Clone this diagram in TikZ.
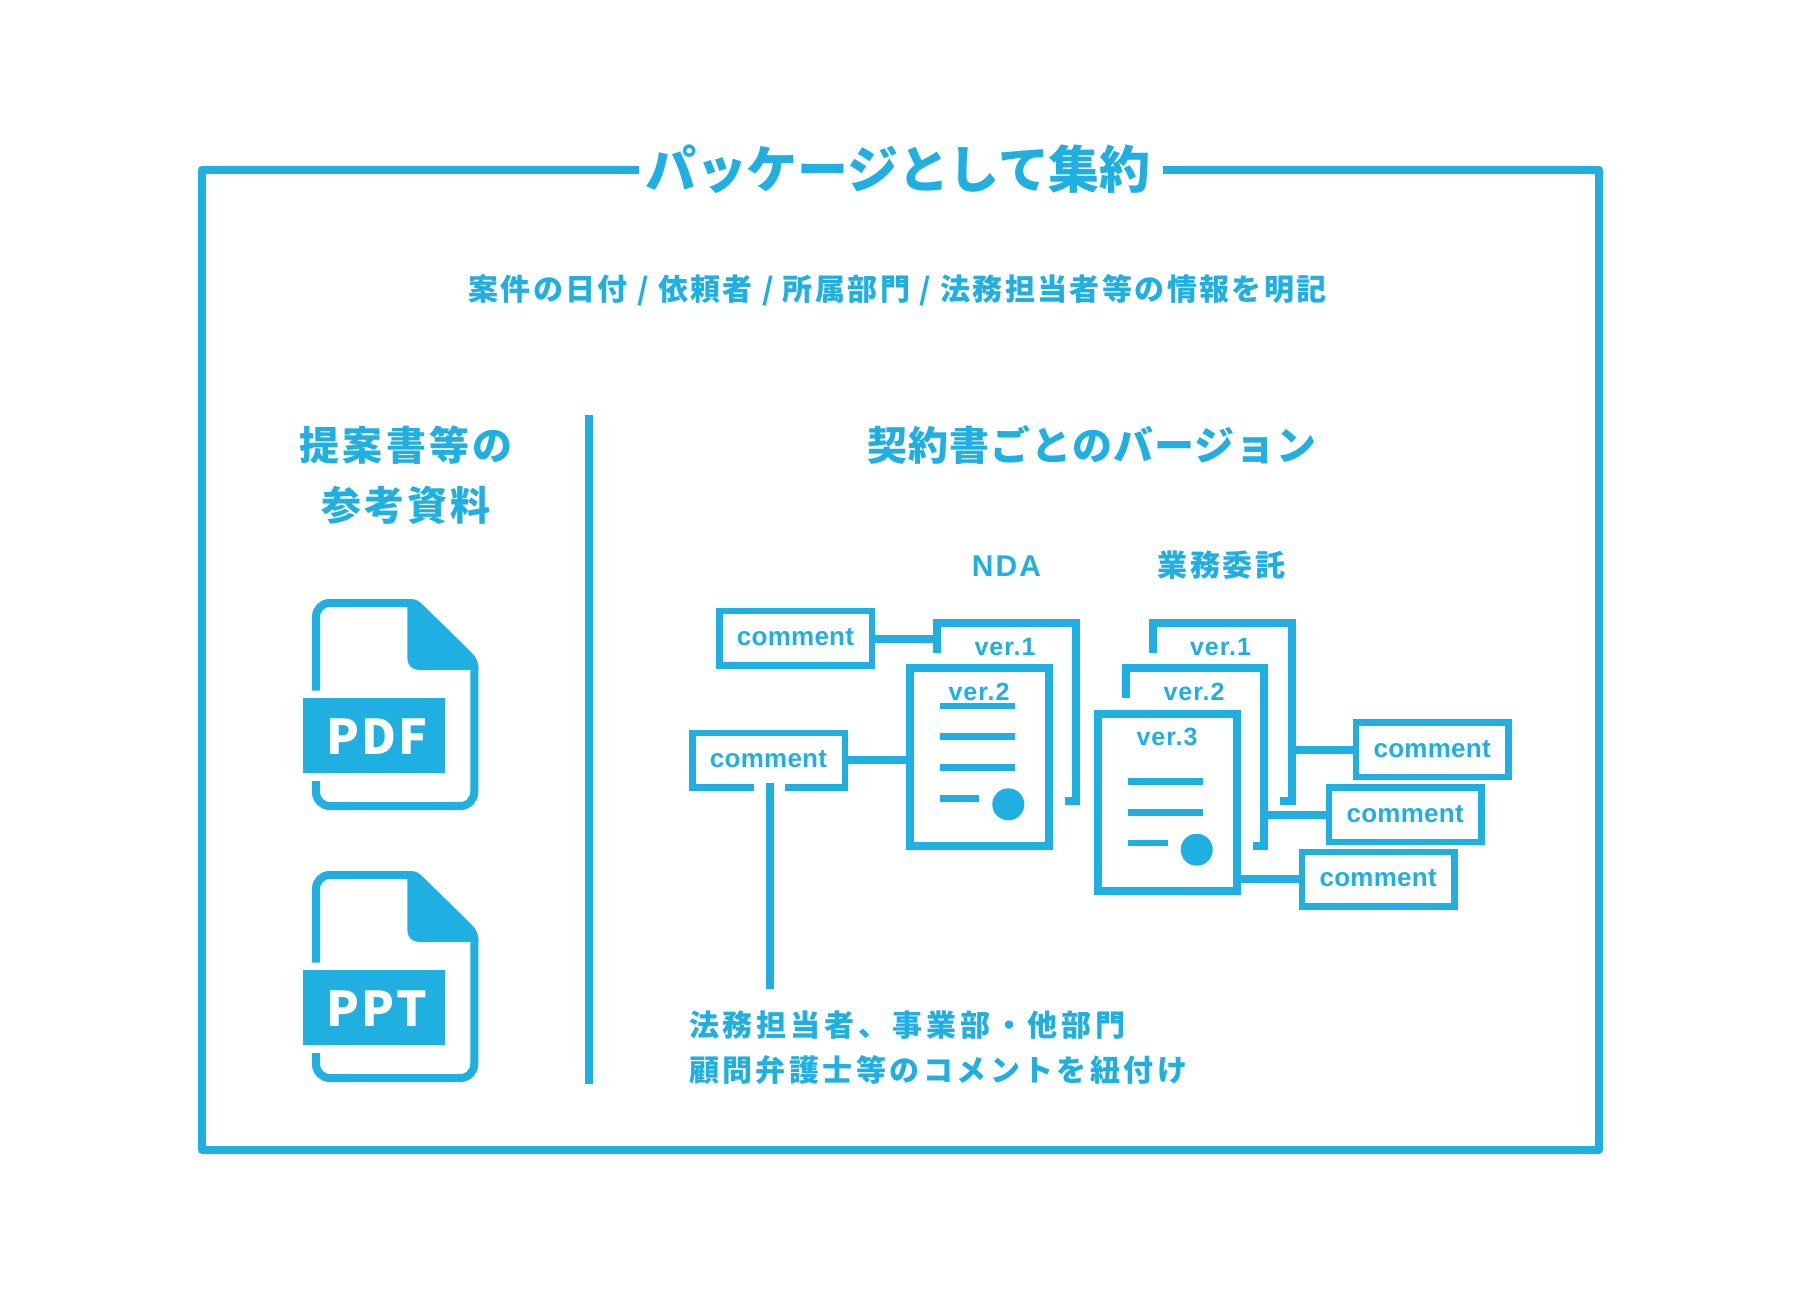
\documentclass[tikz,border=0pt]{standalone}
\usepackage{fontspec}
\newfontfamily\jp{Noto Sans CJK JP}[BoldFont={Noto Sans CJK JP Black}]
\newfontfamily\jpm{Noto Sans CJK JP}
\newfontfamily\lat{Liberation Sans}
\definecolor{brand}{HTML}{20AFE1}
\newcommand\jt[2]{\jp\bfseries\fontsize{#1}{#1}\selectfont\addfontfeature{LetterSpace=#2}}
\newcommand\jb[2]{\jpm\bfseries\fontsize{#1}{#1}\selectfont\addfontfeature{LetterSpace=#2}}
\newcommand\lt[2]{\lat\bfseries\fontsize{#1}{#1}\selectfont\addfontfeature{LetterSpace=#2}}
\tikzset{
  txt/.style={inner sep=0pt,outer sep=0pt,anchor=base,text=brand},
  titletxt/.style={txt,font=\jt{51}{-0.5}},
  subtxt/.style={txt,font=\jt{30}{8}},
  headtxt/.style={txt,font=\jt{40}{8}},
  headtxtb/.style={txt,font=\jt{40}{2.5}},
  captxt/.style={txt,anchor=base west,font=\jt{30}{13}},
  captxtb/.style={txt,anchor=base west,font=\jt{30}{11.5}},
  vertxt/.style={txt,font=\lt{25}{4}},
  collab/.style={txt,font=\lt{30}{7}},
  colj/.style={txt,font=\jt{30}{8}},
  iconlab/.style={txt,text=white,font=\jb{48}{5}},
  commentbox/.style={draw=brand,line width=6.5pt,fill=white,minimum width=152.5pt,minimum height=54.5pt,
    inner sep=0pt,text=brand,font=\lt{26}{1},text height=15pt,text depth=0pt},
  docbox/.style={draw=brand,line width=8pt,fill=white,minimum width=138.7pt,minimum height=177.7pt,inner sep=0pt},
  rule/.style={draw=brand,line width=8pt},
  thin/.style={draw=brand,line width=6.7pt},
  bracket/.style={draw=brand,line width=8pt,miter limit=10},
  link/.style={draw=brand,line width=8pt},
  frame/.style={draw=brand,line width=8.3pt,line join=round}
}
\newcommand\fileicon[3]{%
  \begin{scope}[shift={(0,#1)}]
    \draw[rule] (316,690.7) -- (316,617) .. controls (316,609) and (322,603) .. (330,603) -- (410,603);
    \fill[brand] (407.3,599) -- (411,599) .. controls (416,599) and (420,601.5) .. (423,605)
       -- (472,653) .. controls (476,657) and (478.3,662) .. (478.3,668) -- (478.3,670) -- (419,670)
       .. controls (412,670) and (407.3,665) .. (407.3,658) -- cycle;
    \draw[rule] (474.3,664) -- (474.3,792) .. controls (474.3,800) and (468,806) .. (460,806)
       -- (330,806) .. controls (322,806) and (316,800) .. (316,792) -- (316,781);
    \fill[brand] (303,698) rectangle (445,773);
    \node[iconlab] (#2) at (377,754) {#3};
  \end{scope}
}
\begin{document}
\begin{tikzpicture}[x=1pt,y=-1pt]
\useasboundingbox (0,0) rectangle (1800,1300);
\fill[white] (0,0) rectangle (1800,1300);

% outer frame
\coordinate (fl) at (638.5,169.7);
\coordinate (fr) at (1163,169.7);
\draw[frame] (fl) -- (202,169.7) -- (202,1150) -- (1599,1150) -- (1599,169.7) -- (fr);
\node[titletxt] (title) at (898,189) {パッケージとして集約};
\node[subtxt] (sub) at (897.5,300) {案件の日付 / 依頼者 / 所属部門 / 法務担当者等の情報を明記};

% divider
\coordinate (dvt) at (589,415);
\coordinate (dvb) at (589,1084);
\draw[rule] (dvt) -- (dvb);

% left column
\node[headtxt] (h1) at (406,460) {提案書等の};
\node[headtxt] (h2) at (406,520.5) {参考資料};
\fileicon{0}{pdf}{PDF}
\fileicon{272}{ppt}{PPT}

% right column heading
\node[headtxtb] (h3) at (1092,460) {契約書ごとのバージョン};
\node[collab] (nda) at (1006.5,576) {NDA};
\node[colj] (gyomu) at (1221.5,576.5) {業務委託};

% NDA documents
\coordinate (n1a) at (937.3,652.7);
\coordinate (n1b) at (1064.7,801);
\draw[bracket] (n1a) -- (937.3,623) -- (1076,623) -- (1076,801) -- (n1b);
\node[vertxt] (nv1) at (1005,655) {ver.1};
\node[docbox] (nd2) at (979.35,757.15) {};
\node[vertxt] (nv2) at (979,700) {ver.2};
\draw[thin] (940,706) -- (1015,706);
\draw[thin] (940,736.7) -- (1015,736.7);
\draw[thin] (940,767.3) -- (1015,767.3);
\draw[thin] (940,798.3) -- (979,798.3);
\fill[brand] (1008.3,804.3) circle[radius=16pt];

% business documents
\coordinate (b1a) at (1153,652.7);
\coordinate (b1b) at (1280,801);
\draw[bracket] (b1a) -- (1153,623) -- (1291.7,623) -- (1291.7,801) -- (b1b);
\node[vertxt] (bv1) at (1220.5,655) {ver.1};
\coordinate (b2a) at (1125.7,697.7);
\coordinate (b2b) at (1253,846);
\draw[bracket] (b2a) -- (1125.7,668.3) -- (1264.3,668.3) -- (1264.3,846) -- (b2b);
\node[vertxt] (bv2) at (1194,700) {ver.2};
\node[docbox] (bd3) at (1167.65,802.5) {};
\node[vertxt] (bv3) at (1167,745) {ver.3};
\draw[thin] (1128.3,781.7) -- (1203.3,781.7);
\draw[thin] (1128.3,812.5) -- (1203.3,812.5);
\draw[thin] (1128.3,843) -- (1167.7,843);
\fill[brand] (1196.7,849.7) circle[radius=16pt];

% comments
\node[commentbox] (c1) at (795.5,638.2) {comment};
\node[commentbox] (c2) at (768.5,760) {comment};
\node[commentbox] (c3) at (1432.2,749.7) {comment};
\node[commentbox] (c4) at (1405.2,814.5) {comment};
\node[commentbox] (c5) at (1378.2,879.2) {comment};

% connectors
\coordinate (n1m) at (933.3,638.5);
\coordinate (b1m) at (1295.7,750);
\coordinate (b2m) at (1268.3,814.7);
\draw[link] (c1.east |- n1m) -- (n1m);
\draw[link] (c2.east) -- (c2.east -| nd2.west);
\draw[link] (b1m) -- (b1m -| c3.west);
\draw[link] (b2m) -- (b2m -| c4.west);
\draw[link] (bd3.east |- c5.west) -- (c5.west);

% comment 2 tail
\fill[white] (753.7,782) rectangle (785.3,792);
\coordinate (tailtop) at (769.5,783);
\coordinate (tailend) at (769.5,989);
\draw[link] (tailtop) -- (tailend);

% caption
\node[captxt] (cap1) at (689,1036.5) {法務担当者、事業部・他部門};
\node[captxtb] (cap2) at (689,1081) {顧問弁護士等のコメントを紐付け};
\end{tikzpicture}
\end{document}
